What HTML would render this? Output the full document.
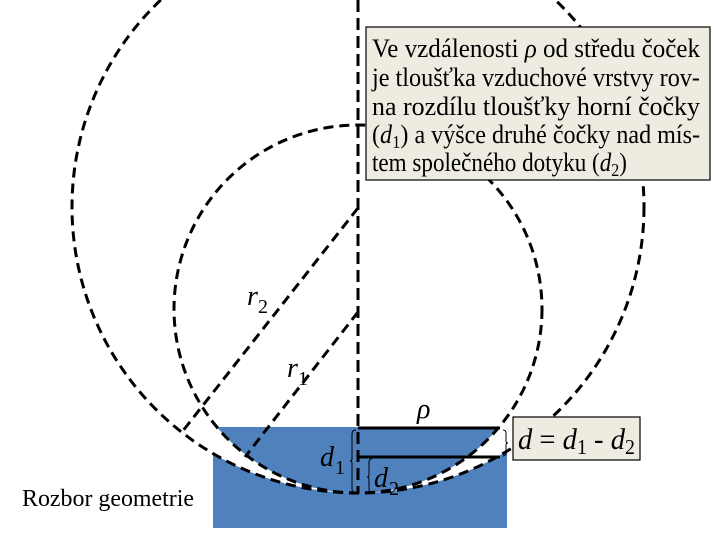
<!DOCTYPE html>
<html><head><meta charset="utf-8"><style>
html,body{margin:0;padding:0;background:#fff;}
svg{display:block;}
text{font-family:"Liberation Serif",serif;}
</style></head><body>
<svg width="720" height="540" viewBox="0 0 720 540" xmlns="http://www.w3.org/2000/svg">
<defs><clipPath id="c"><rect x="213" y="427" width="294" height="101"/></clipPath></defs>
<rect x="213" y="427" width="294" height="101" fill="#4f81bd"/>
<g clip-path="url(#c)">
<circle cx="358" cy="207" r="286" fill="#fff"/>
<circle cx="358" cy="309" r="184" fill="#4f81bd"/>
</g>
<g fill="none" stroke="#000" stroke-width="3" stroke-dasharray="10 6">
<circle cx="358" cy="207" r="286"/>
<circle cx="358" cy="309" r="184"/>
<line x1="358" y1="0" x2="358" y2="493" stroke-dasharray="12 6"/>
<line x1="358" y1="208" x2="182" y2="432"/>
<line x1="358" y1="312" x2="245" y2="457"/>
</g>
<g stroke="#000" stroke-width="3">
<line x1="358" y1="428" x2="500" y2="428"/>
<line x1="358" y1="457" x2="500" y2="457"/>
</g>
<g fill="none" stroke="#000" stroke-width="1">
<path d="M356 430 q-4 0 -4 4 v25 q0 2 -2 2 q2 0 2 2 v26 q0 4 4 4"/>
<path d="M372 459 q-3 0 -3 3 v13 q0 2 -2 2 q2 0 2 2 v10 q0 3 3 3"/>
<path d="M503 430 q3 0 3 3 v8 q0 2 2 2 q-2 0 -2 2 v8 q0 3 -3 3"/>
</g>
<rect x="366" y="27" width="344" height="153" fill="#eeece1" stroke="#000" stroke-width="1.2"/>
<g font-size="26" fill="#000">
<text x="372" y="57" textLength="328" lengthAdjust="spacingAndGlyphs">Ve vzdálenosti <tspan font-style="italic">ρ</tspan> od středu čoček</text>
<text x="372" y="86" textLength="328" lengthAdjust="spacingAndGlyphs">je tloušťka vzduchové vrstvy rov-</text>
<text x="372" y="115" textLength="328" lengthAdjust="spacingAndGlyphs">na rozdílu tloušťky horní čočky</text>
<text x="372" y="143" textLength="328" lengthAdjust="spacingAndGlyphs">(<tspan font-style="italic">d</tspan><tspan font-size="18" dy="5">1</tspan><tspan dy="-5">) a výšce druhé čočky nad mís-</tspan></text>
<text x="372" y="171" textLength="255" lengthAdjust="spacingAndGlyphs">tem společného dotyku (<tspan font-style="italic">d</tspan><tspan font-size="18" dy="5">2</tspan><tspan dy="-5">)</tspan></text>
</g>
<rect x="513" y="417" width="127" height="43" fill="#eeece1" stroke="#000" stroke-width="1.2"/>
<text x="518" y="449" font-size="30" textLength="117" lengthAdjust="spacingAndGlyphs"><tspan font-style="italic">d</tspan> = <tspan font-style="italic">d</tspan><tspan font-size="21" dy="5">1</tspan><tspan dy="-5"> - </tspan><tspan font-style="italic">d</tspan><tspan font-size="21" dy="5">2</tspan></text>
<g font-size="28" font-style="italic">
<text x="247" y="305">r</text><text x="258" y="313" font-size="20" font-style="normal">2</text>
<text x="287" y="377">r</text><text x="298" y="385" font-size="20" font-style="normal">1</text>
<text x="417" y="418">ρ</text>
<text x="320" y="466">d</text><text x="335" y="474" font-size="20" font-style="normal">1</text>
<text x="374" y="487">d</text><text x="389" y="495" font-size="20" font-style="normal">2</text>
</g>
<text x="22" y="506" font-size="24" textLength="172" lengthAdjust="spacingAndGlyphs">Rozbor geometrie</text>
</svg>
</body></html>
